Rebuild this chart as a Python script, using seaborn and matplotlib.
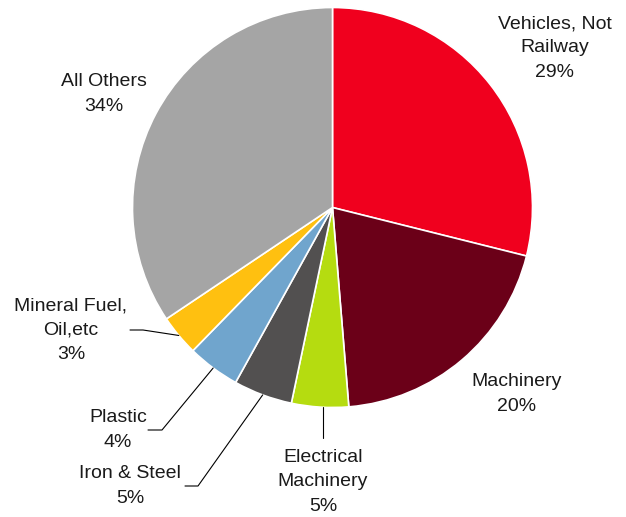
import matplotlib
matplotlib.use("Agg")
import matplotlib.pyplot as plt
import seaborn as sns
import numpy as np

# data (shares, labels show rounded values)
categories = ["Vehicles, Not\nRailway", "Machinery", "Electrical\nMachinery", "Iron & Steel",
              "Plastic", "Mineral Fuel,\nOil,etc", "All Others"]
shares = [28.9, 19.8, 4.6, 4.75, 4.25, 3.3, 34.4]
colors = ["#F0001E", "#6B0018", "#B5DC10", "#525050", "#70A5CD", "#FFC010", "#A5A5A5"]

sns.set_theme(style="white")
plt.rcParams['font.family'] = ['Liberation Sans', 'DejaVu Sans']

W, H = 626, 517
fig = plt.figure(figsize=(W / 100, H / 100), dpi=100)
ax = fig.add_axes([0, 0, 1, 1])

cx, cy, r = 332.5, H - 207.5, 200
wedges, _ = ax.pie(shares, colors=colors, startangle=90, counterclock=False,
                   center=(cx, cy), radius=r, frame=True,
                   wedgeprops=dict(edgecolor="white", linewidth=1.2))
ax.set_xlim(0, W)
ax.set_ylim(0, H)
ax.axis("off")

# label positions (pixel coords, top-left origin)
label_pos = {
    0: (555, 48),
    1: (517, 394),
    2: (323, 482),
    3: (130, 486),
    4: (118, 430),
    5: (71, 330),
    6: (104, 94),
}
for i, (name, val) in enumerate(zip(categories, shares)):
    x, y = label_pos[i]
    ax.text(x, H - y, f"{name}\n{round(val)}%", ha="center", va="center",
            fontsize=14, color="#1a1a1a", linespacing=1.55)

# leader lines: from wedge edge to elbow to end
def edge_point(w):
    a = np.deg2rad((w.theta1 + w.theta2) / 2)
    return cx + r * np.cos(a), cy + r * np.sin(a)

leaders = {
    2: [(323, 438)],
    3: [(198, 486), (185, 486)],
    4: [(162, 430), (148, 430)],
    5: [(143, 330), (130, 330)],
}
for i, pts in leaders.items():
    x0, y0 = edge_point(wedges[i])
    if i == 2:
        x0 = 323
    xs = [x0] + [p[0] for p in pts]
    ys = [y0] + [H - p[1] for p in pts]
    ax.plot(xs, ys, color="black", lw=0.8)

plt.savefig("out.png", dpi=100)
